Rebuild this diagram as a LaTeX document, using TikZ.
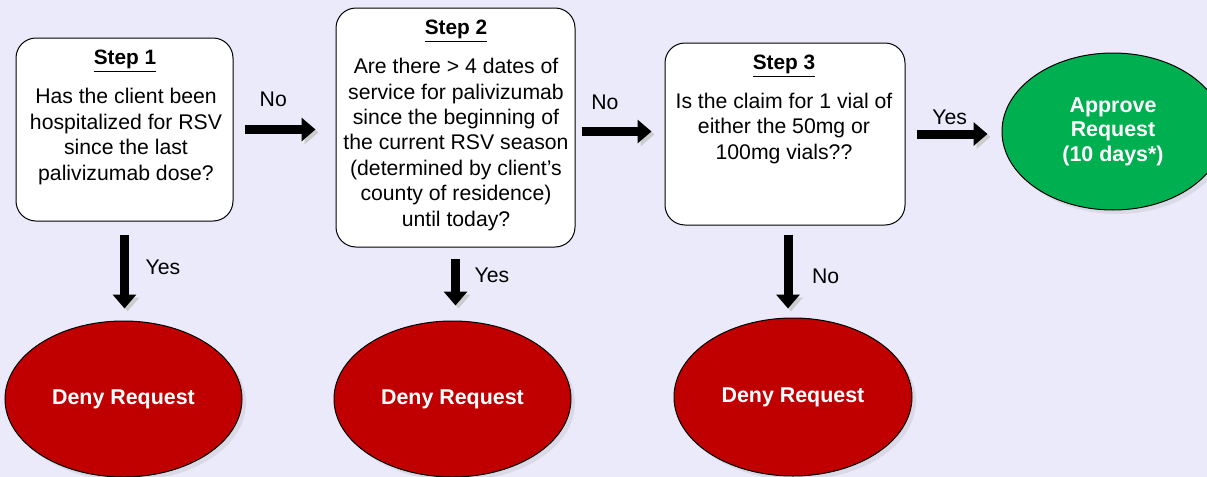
\documentclass[tikz,border=0pt]{standalone}
\usepackage{fontspec}
\setmainfont{Liberation Sans}
\usetikzlibrary{shapes.geometric,arrows.meta,shadows}

\definecolor{bg}{RGB}{234,234,250}
\definecolor{denyred}{RGB}{192,0,0}
\definecolor{okgreen}{RGB}{0,176,80}

\begin{document}
\begin{tikzpicture}[x=0.5pt, y=-0.5pt,
        every node/.style={font=\fontsize{10.6}{12.7}\selectfont},
        stepbox/.style={draw, fill=white, rounded corners=10pt, line width=0.5pt, inner sep=0pt},
        head/.style={font=\fontsize{10.4}{12.7}\selectfont\bfseries, anchor=base},
        ask/.style={align=center, inner sep=0pt},
        outcome/.style={ellipse, draw, line width=0.5pt, text=white, align=center, inner sep=0pt,
            font=\fontsize{10.7}{12.3}\selectfont\bfseries,
            drop shadow={shadow xshift=2pt, shadow yshift=-2pt, opacity=.15}},
        flow/.style={line width=4.5pt, -{Triangle[width=11.5pt,length=7pt]},
            preaction={draw=black!20, transform canvas={shift={(1.5pt,-1.5pt)}}}}]
    \useasboundingbox (0,0) rectangle (1207,477);
    \clip (0,0) rectangle (1207,477);
    \fill[bg] (0,0) rectangle (1207,477);

    % questions
    \node[stepbox, minimum width=108.5pt, minimum height=91.5pt] (s1) at (124.5,129.5) {};
    \node[stepbox, minimum width=119.5pt, minimum height=119.5pt] (s2) at (455.5,127.5) {};
    \node[stepbox, minimum width=120pt, minimum height=91pt] (s3) at (785,134) {};
    \node[head] (h1) at (125,64.5) {\underline{Step 1}};
    \node[head] (h2) at (456,34.5) {\underline{Step 2}};
    \node[head] (h3) at (784,69.5) {\underline{Step 3}};
    \node[ask] (q1) at (126,136.5) {Has the client been\\hospitalized for RSV\\since the last\\palivizumab dose?};
    \node[ask] (q2) at (456,144.5) {Are there > 4 dates of\\service for palivizumab\\since the beginning of\\the current RSV season\\(determined by client’s\\county of residence)\\until today?};
    \node[ask] (q3) at (784,128.5) {Is the claim for 1 vial of\\either the 50mg or\\100mg vials??};

    % outcomes
    \node[outcome, fill=denyred, minimum width=118.5pt, minimum height=78pt] (d1) at (123.5,399) {Deny Request};
    \node[outcome, fill=denyred, minimum width=118.5pt, minimum height=78pt] (d2) at (452.5,399) {Deny Request};
    \node[outcome, fill=denyred, minimum width=119pt, minimum height=79pt] (d3) at (793,397) {Deny Request};
    \node[outcome, fill=okgreen, minimum width=111pt, minimum height=78.5pt] (ok) at (1113,131.5) {Approve\\Request\\(10 days*)};

    % arrows
    \draw[flow, shorten <=5.5pt, shorten >=10pt] (s1.east) -- (s1.east -| s2.west) node[pos=.39, above=6pt] (n1) {No};
    \draw[flow, shorten <=3pt, shorten >=6.5pt] ([yshift=-2pt]s2.east) -- ([yshift=-2pt]s2.east -| s3.west) node[pos=.33, above=5.5pt] (n2) {No};
    \draw[flow, shorten <=5.5pt, shorten >=7pt] (s3.east) -- (s3.east -| ok.west) node[pos=.46, above=-1pt] (y3) {Yes};
    \draw[flow, shorten <=6.75pt, shorten >=6pt] (s1.south) -- (s1.south |- d1.north) node[pos=.46, right=5pt] (y1) {Yes};
    \draw[flow, shorten <=5.5pt, shorten >=7.5pt] (s2.south) -- (s2.south |- d2.north) node[pos=.38, right=4pt] (y2) {Yes};
    \draw[flow, shorten <=4.5pt, shorten >=4.5pt] ([xshift=1.5pt]s3.south) -- ([xshift=1.5pt]s3.south |- d3.north) node[pos=.55, right=6.5pt] (n3) {No};
\end{tikzpicture}
\end{document}
